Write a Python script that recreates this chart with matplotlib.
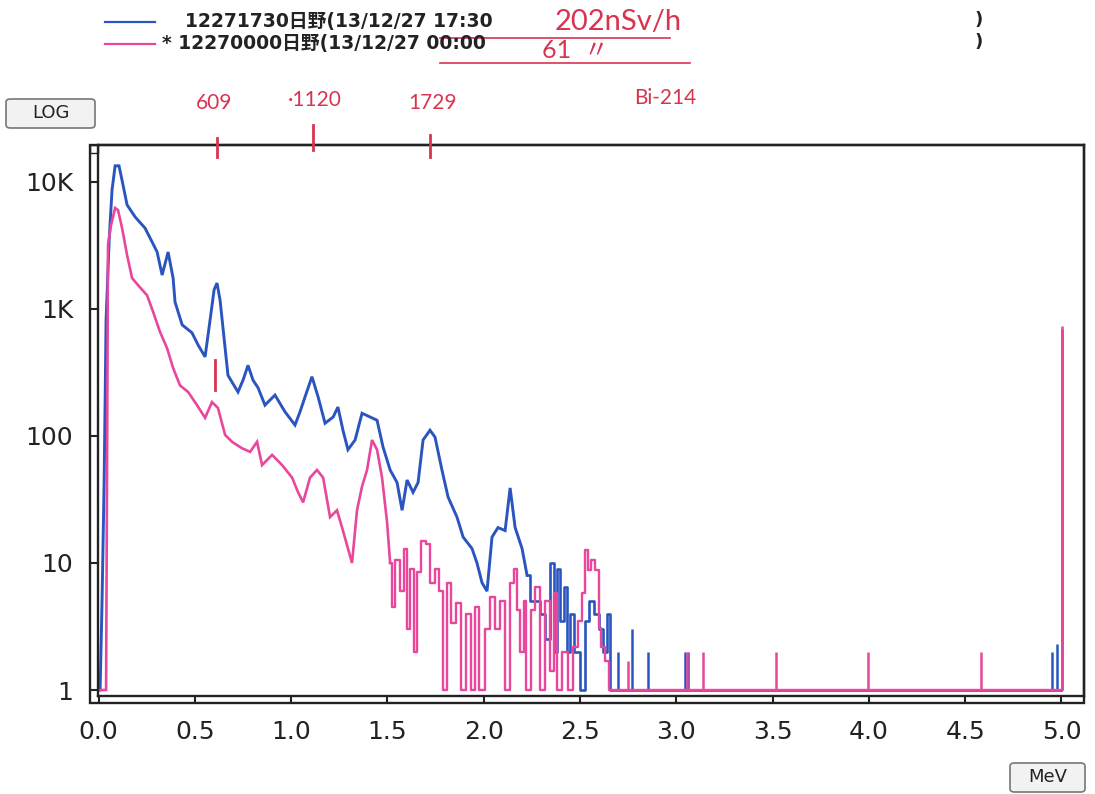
import matplotlib
matplotlib.use("Agg")
import matplotlib.pyplot as plt
from matplotlib.patches import Rectangle, FancyBboxPatch
from matplotlib.lines import Line2D

plt.rcParams['font.family'] = ['DejaVu Sans', 'Noto Sans CJK JP']

W, H = 1095, 794

# spectrum: energy (MeV) / counts
blue_e = [0.008, 0.018, 0.029, 0.039, 0.055, 0.070, 0.086, 0.106, 0.122, 0.148,
          0.190, 0.241, 0.278, 0.304, 0.330, 0.361, 0.387, 0.397, 0.434, 0.485,
          0.517, 0.553, 0.579, 0.600, 0.615, 0.631, 0.646, 0.672, 0.724, 0.750,
          0.776, 0.802, 0.828, 0.864, 0.916, 0.968, 1.020, 1.046, 1.072, 1.108,
          1.140, 1.176, 1.218, 1.243, 1.269, 1.295, 1.332, 1.368, 1.410, 1.446,
          1.477, 1.514, 1.550, 1.576, 1.602, 1.633, 1.659, 1.685, 1.721, 1.747,
          1.783, 1.815, 1.861, 1.893, 1.939, 1.965, 1.991, 2.017, 2.043, 2.074,
          2.111, 2.137, 2.163, 2.199, 2.225, 2.251, 2.277, 2.303, 2.329, 2.355,
          2.370, 2.386, 2.407, 2.422, 2.438, 2.458, 2.484, 2.516, 2.536, 2.562,
          2.588, 2.604, 2.630, 2.645, 2.666, 5.0]
blue_c = [1, 5, 45, 820, 3500, 8700, 13400, 13400, 10300, 6600,
          5300, 4340, 3370, 2810, 1850, 2810, 1750, 1135, 750, 650,
          520, 420, 820, 1420, 1600, 1170, 710, 300, 222, 275,
          360, 275, 240, 175, 210, 155, 122, 155, 203, 293,
          203, 126, 141, 169, 111, 78, 93, 151, 141, 133,
          82, 54, 43, 26, 45, 36, 43, 93, 111, 98,
          54, 33, 23, 16, 13, 10, 7, 6, 16, 19,
          18, 39, 19, 13, 8, 5, 5, 4, 2.5, 10,
          2, 9, 3.5, 6.5, 2, 4, 2, 1, 3.5, 5,
          4, 3, 2, 4, 1, 1]

pink_e = [0.008, 0.039, 0.049, 0.065, 0.086, 0.101, 0.122, 0.148, 0.174, 0.205,
          0.252, 0.283, 0.319, 0.356, 0.387, 0.423, 0.465, 0.511, 0.553, 0.589,
          0.620, 0.657, 0.693, 0.745, 0.787, 0.823, 0.849, 0.901, 0.953, 1.005,
          1.036, 1.062, 1.098, 1.134, 1.166, 1.202, 1.238, 1.269, 1.295, 1.316,
          1.342, 1.368, 1.394, 1.420, 1.446, 1.472, 1.498, 1.514, 1.529, 1.550,
          1.576, 1.591, 1.607, 1.628, 1.643, 1.659, 1.685, 1.711, 1.732, 1.757,
          1.783, 1.799, 1.815, 1.841, 1.867, 1.893, 1.919, 1.944, 1.965, 1.991,
          2.017, 2.043, 2.074, 2.100, 2.126, 2.147, 2.163, 2.178, 2.199, 2.214,
          2.230, 2.256, 2.277, 2.303, 2.329, 2.355, 2.370, 2.396, 2.422, 2.448,
          2.474, 2.500, 2.516, 2.536, 2.552, 2.567, 2.588, 2.604, 2.619, 2.640,
          2.656, 5.0]
pink_c = [1, 1, 3200, 4600, 6240, 6000, 4340, 2660, 1750, 1540,
          1280, 950, 660, 490, 343, 250, 222, 175, 139, 185,
          166, 102, 90, 80, 75, 90, 59, 71, 59, 47,
          36, 30, 47, 54, 47, 23, 26, 18, 13, 10,
          26, 40, 54, 93, 78, 47, 21, 10, 4.5, 10.5,
          6, 13, 3, 9, 2, 8.5, 15, 14, 7, 9,
          6, 1, 7, 3.4, 4.8, 1, 4, 1, 4.5, 1,
          3, 5.4, 3, 5, 1, 7, 9, 4.3, 2, 5,
          1, 4.3, 6.5, 1, 5, 1.4, 5.8, 1, 2, 1,
          2.2, 3.5, 5.8, 12.6, 8.8, 10.5, 8.8, 3.1, 2.2, 1.7,
          1, 1]

# isolated single-channel hits
blue_spike_e = [2.697, 2.770, 2.853, 3.045, 3.061, 4.950, 4.976, 5.002]
blue_spike_c = [2, 3, 2, 2, 2, 2, 2.3, 700]
pink_spike_e = [2.749, 3.056, 3.139, 3.518, 3.995, 4.582, 5.002]
pink_spike_c = [1.7, 2, 2, 2, 2, 2, 730]

x_ticks = [0.0, 0.5, 1.0, 1.5, 2.0, 2.5, 3.0, 3.5, 4.0, 4.5, 5.0]
y_ticks = [1, 10, 100, 1000, 10000]
y_labels = ['1', '10', '100', '1K', '10K']

blue = '#2a55c0'
pink = '#e8479c'
red = '#d8344f'
ink = '#222222'


def fx(px):
    return px / W


def fy(py):
    return 1 - py / H


def draw_series(ax, e, c, noisy_from, color, lw):
    # smooth part as a line, noisy tail as channel steps
    k = next(i for i, v in enumerate(e) if v >= noisy_from)
    ax.plot(e[:k + 1], c[:k + 1], color=color, lw=lw, solid_joinstyle='miter')
    ax.plot(e[k:], c[k:], drawstyle='steps-mid', color=color, lw=lw * 0.9)


fig = plt.figure(figsize=(W / 100, H / 100), dpi=100)
ax = fig.add_axes([fx(98), fy(696), fx(1084) - fx(98), fy(145) - fy(696)])

draw_series(ax, blue_e, blue_c, 2.2, blue, 2.1)
ax.vlines(blue_spike_e, 1, blue_spike_c, color=blue, lw=1.8)
draw_series(ax, pink_e, pink_c, 1.5, pink, 1.9)
ax.vlines(pink_spike_e, 1, pink_spike_c, color=pink, lw=1.8)

ax.set_yscale('log')
ax.set_xlim(-0.003, 5.117)
ax.set_ylim(0.897, 19550)
ax.set_xticks(x_ticks)
ax.set_xticklabels([f'{t:.1f}' for t in x_ticks])
ax.set_yticks(y_ticks)
ax.set_yticklabels(y_labels)
ax.minorticks_off()
ax.tick_params(axis='x', direction='out', length=5, width=1.5, pad=12, labelsize=18, colors=ink)
ax.tick_params(axis='y', direction='out', length=5.8, width=1.5, pad=12, labelsize=18, colors=ink)
for s in ax.spines.values():
    s.set_linewidth(1.7)
    s.set_color(ink)

# outer frame with the strips on left and bottom
fig.add_artist(Rectangle((fx(90), fy(703)), fx(1084) - fx(90), fy(145) - fy(703),
                         fill=False, lw=1.7, ec=ink, transform=fig.transFigure))
fig.add_artist(Rectangle((fx(90), fy(153)), fx(98) - fx(90), fy(145) - fy(153),
                         fill=False, lw=1.0, ec=ink, transform=fig.transFigure))

# legend rows
fig.add_artist(Line2D([fx(105), fx(155)], [fy(22), fy(22)], color=blue, lw=1.6))
fig.add_artist(Line2D([fx(105), fx(155)], [fy(44), fy(44)], color=pink, lw=1.6))
fig.text(fx(185), fy(22), '12271730日野(13/12/27 17:30', fontsize=13.5, weight='bold',
         va='center', ha='left', color=ink, family=['DejaVu Sans', 'Noto Sans CJK JP'])
fig.text(fx(162), fy(44), '* 12270000日野(13/12/27 00:00', fontsize=13.5, weight='bold',
         va='center', ha='left', color=ink, family=['DejaVu Sans', 'Noto Sans CJK JP'])
fig.text(fx(975), fy(20), ')', fontsize=13, weight='bold', va='center', color=ink)
fig.text(fx(975), fy(42), ')', fontsize=13, weight='bold', va='center', color=ink)

# handwritten notes
note = dict(color=red, ha='center', va='center', family=['Lato', 'Noto Sans CJK JP'], weight='normal')
fig.text(fx(618), fy(22), '202nSv/h', fontsize=21, **note)
fig.text(fx(575), fy(50), '61  〃', fontsize=18, **note)
fig.add_artist(Line2D([fx(440), fx(670)], [fy(38), fy(38)], color=red, lw=1.2))
fig.add_artist(Line2D([fx(440), fx(690)], [fy(63), fy(63)], color=red, lw=1.2))
fig.text(fx(214), fy(103), '609', fontsize=15, **note)
fig.text(fx(315), fy(100), '·1120', fontsize=15, **note)
fig.text(fx(433), fy(103), '1729', fontsize=15, **note)
fig.text(fx(665), fy(98), 'Bi-214', fontsize=15, **note)
for x0, y0, y1 in [(217, 138, 157), (313, 125, 150), (430, 135, 157), (215, 360, 390)]:
    fig.add_artist(Line2D([fx(x0), fx(x0)], [fy(y0), fy(y1)], color=red, lw=2))

# buttons
for (x0, y0, x1, y1, label) in [(6, 99, 95, 128, 'LOG'), (1010, 763, 1085, 792, 'MeV')]:
    fig.add_artist(FancyBboxPatch((fx(x0), fy(y1)), fx(x1) - fx(x0), fy(y0) - fy(y1),
                                  boxstyle='round,pad=0,rounding_size=0.004', fc='#f2f2f2',
                                  ec='#777777', lw=1.2, transform=fig.transFigure))
    fig.text(fx((x0 + x1) / 2), fy((y0 + y1) / 2), label, fontsize=13, ha='center',
             va='center', color=ink)

fig.savefig('out.png', dpi=100)
